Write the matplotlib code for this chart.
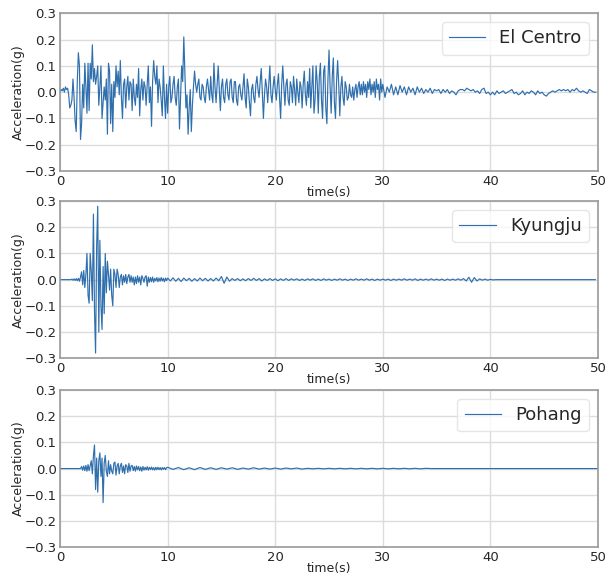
import numpy as np
import matplotlib
matplotlib.use("Agg")
import matplotlib.pyplot as plt

# ---------------- ground-motion records (acceleration in g) ----------------
# El Centro: 0-30 s sampled every 0.1 s, 30-50 s every 0.2 s
el_centro_main = [
    0.00, 0.01, 0.005, 0.015, 0.00, 0.02, 0.01, 0.015, -0.01, -0.06,
    -0.05, -0.03, 0.05, -0.02, -0.11, -0.15, 0.04, 0.15, 0.10, -0.18,
    -0.12, 0.03, -0.06, 0.11, 0.02, -0.08, 0.11, -0.07, 0.11, 0.05,
    0.18, 0.04, 0.09, 0.03, 0.06, 0.10, -0.05, 0.02, 0.10, -0.10,
    -0.04, 0.02, -0.03, 0.05, -0.16, 0.11, 0.08, -0.12, 0.03, -0.15,
    0.04, -0.02, 0.10, 0.02, 0.08, -0.01, 0.12, -0.02, -0.10, 0.03,
    0.05, -0.06, 0.02, 0.06, -0.03, 0.04, 0.03, -0.07, 0.05, -0.02,
    -0.05, 0.03, -0.02, 0.09, -0.09, 0.01, 0.05, -0.03, 0.04, 0.02,
    -0.05, 0.03, 0.10, -0.04, 0.02, -0.13, 0.04, 0.12, 0.06, 0.03,
    0.10, -0.04, 0.05, 0.02, -0.03, -0.09, 0.10, -0.02, -0.10, 0.03,
    -0.08, 0.02, 0.06, -0.04, -0.02, 0.03, 0.06, -0.02, -0.05, 0.02,
    0.05, -0.14, -0.02, 0.10, 0.04, 0.21, 0.08, -0.06, -0.01, -0.16,
    -0.06, 0.01, -0.15, -0.05, 0.02, 0.08, 0.03, 0.00, 0.03, 0.05,
    -0.02, -0.03, 0.03, 0.02, -0.02, -0.04, 0.02, 0.05, 0.01, -0.03,
    0.06, -0.01, -0.04, 0.11, 0.02, -0.04, 0.03, 0.10, 0.01, -0.07,
    0.02, 0.05, -0.02, -0.04, 0.03, 0.05, -0.01, -0.03, 0.04, 0.05,
    -0.02, -0.04, 0.04, 0.04, -0.03, -0.05, 0.02, 0.03, -0.01, -0.03,
    0.02, 0.07, -0.02, -0.06, 0.05, 0.02, -0.04, -0.09, 0.01, 0.03,
    -0.02, -0.04, 0.03, 0.06, 0.01, -0.02, 0.04, 0.09, 0.00, -0.10,
    -0.01, 0.05, 0.02, -0.04, 0.03, 0.10, -0.01, -0.04, 0.02, 0.06,
    0.01, -0.03, 0.03, 0.07, -0.02, -0.10, 0.03, 0.10, 0.02, -0.05,
    0.03, 0.05, -0.03, -0.05, 0.04, 0.02, -0.04, 0.06, 0.01, -0.05,
    0.05, 0.00, -0.04, 0.04, 0.02, -0.06, 0.03, 0.08, -0.01, -0.05,
    0.04, -0.02, 0.09, -0.06, 0.02, 0.10, -0.08, -0.03, 0.10, 0.04,
    -0.08, 0.06, 0.11, -0.03, -0.10, 0.08, 0.10, -0.06, -0.12, 0.05,
    0.16, 0.02, -0.08, 0.06, 0.13, -0.04, -0.10, 0.04, 0.12, 0.03,
    -0.09, 0.02, 0.06, -0.02, -0.05, 0.04, 0.02, -0.03, -0.02, 0.03,
    -0.01, -0.02, 0.02, -0.03, 0.01, 0.03, -0.02, 0.02, 0.04, -0.01,
    0.03, -0.01, 0.04, 0.00, 0.03, -0.02, 0.04, 0.01, 0.05, -0.01,
    0.03, 0.00, 0.04, -0.02, 0.05, 0.01, 0.03, -0.03, 0.05, 0.00,
]
el_centro_tail = [
    0.03, -0.02, 0.02, 0.00, 0.03, -0.01, 0.02, -0.01, 0.025, 0.00,
    0.02, -0.01, 0.02, 0.00, 0.015, -0.01, 0.02, 0.00, 0.015, -0.005,
    0.01, 0.00, 0.015, -0.005, 0.01, 0.005, 0.01, -0.005, 0.01, 0.00,
    0.01, -0.005, 0.005, 0.00, -0.01, 0.005, 0.01, 0.01, 0.005, 0.015,
    0.01, 0.005, 0.01, 0.00, 0.005, -0.005, 0.01, 0.015, -0.005, 0.00,
    -0.01, 0.00, -0.01, 0.005, -0.005, 0.00, 0.005, -0.005, 0.00, 0.005,
    0.01, -0.005, 0.00, -0.01, -0.005, 0.005, -0.01, 0.00, -0.005, 0.005,
    0.00, -0.01, 0.005, -0.005, 0.00, -0.01, -0.015, -0.005, 0.00, 0.005,
    0.00, 0.005, 0.01, 0.005, 0.01, 0.005, 0.01, 0.00, 0.01, 0.005,
    0.015, 0.005, 0.00, 0.005, 0.00, -0.005, 0.01, 0.005, 0.00, 0.00,
]

# Kyungju: 0-10 s every 0.1 s, 10-50 s every 0.25 s
kyungju_main = [
    0, 0, 0, 0, 0, 0, 0, 0, 0, 0,
    0, 0.002, -0.002, 0.003, -0.003, 0.004, -0.004, 0.005, -0.006, 0.01,
    0.03, -0.02, 0.035, -0.03, 0.02, 0.10, -0.06, -0.09, 0.10, 0.03,
    -0.08, 0.25, -0.12, -0.28, 0.13, 0.28, -0.20, 0.15, -0.10, -0.19,
    0.05, -0.13, 0.10, -0.05, 0.07, 0.02, -0.04, 0.04, -0.06, -0.10,
    0.04, 0.02, -0.03, 0.04, 0.02, -0.03, 0.01, 0.02, -0.02, 0.015,
    -0.01, 0.02, -0.015, 0.01, 0.02, -0.01, 0.015, -0.01, 0.01, -0.02,
    0.01, -0.015, 0.015, -0.01, 0.01, -0.02, 0.015, 0.005, -0.01, 0.01,
    0.015, -0.025, 0.01, -0.01, 0.008, -0.008, 0.01, -0.01, 0.005, -0.005,
    0.008, -0.008, 0.006, -0.006, 0.008, -0.005, 0.005, -0.008, 0.006, -0.004,
]
kyungju_tail = [
    0.006, -0.005, 0.007, -0.006, 0.005, -0.007, 0.006, -0.004,
    0.005, -0.006, 0.004, -0.005, 0.006, -0.004, 0.005, -0.005,
    0.004, -0.005, 0.006, -0.004, 0.012, -0.014, 0.01, -0.006,
    0.004, -0.003, 0.004, -0.004, 0.003, -0.004, 0.004, -0.003,
    0.005, -0.003, 0.004, -0.005, 0.003, -0.003, 0.004, -0.003,
    0.003, -0.004, 0.003, -0.003, 0.004, -0.003, 0.003, -0.002,
    0.003, -0.003, 0.002, -0.003, 0.003, -0.002, 0.003, -0.003,
    0.002, -0.003, 0.003, -0.002, 0.002, -0.003, 0.002, -0.002,
    0.003, -0.002, 0.002, -0.003, 0.002, -0.002, 0.003, -0.002,
    0.002, -0.002, 0.003, -0.002, 0.002, -0.003, 0.002, -0.002,
    0.002, -0.002, 0.002, -0.003, 0.002, -0.002, 0.002, -0.002,
    0.003, -0.002, 0.002, -0.002, 0.003, -0.003, 0.002, -0.002,
    0.002, -0.002, 0.003, -0.002, 0.002, -0.002, 0.002, -0.003,
    0.002, -0.002, 0.002, -0.002, 0.003, -0.002, 0.004, -0.005,
    0.009, -0.01, 0.008, -0.005, 0.003, -0.002, 0.002, -0.002,
    0.001, -0.001, 0, 0, 0, 0, 0, 0,
    0, 0, 0, 0, 0, 0, 0, 0,
    0, 0, 0, 0, 0, 0, 0, 0,
    0, 0, 0, 0, 0, 0, 0, 0,
    0, 0, 0, 0, 0, 0, 0, 0,
]

# Pohang: 0-10 s every 0.1 s, 10-50 s every 0.5 s
pohang_main = [
    0, 0, 0, 0, 0, 0, 0, 0, 0, 0,
    0, 0, 0, 0, 0, 0, 0, 0, 0, 0,
    0.008, -0.006, 0.01, -0.008, 0.012, -0.01, 0.015, -0.008, 0.012, 0.03,
    -0.02, 0.05, 0.09, -0.08, 0.04, -0.09, 0.03, 0.06, -0.03, 0.04,
    -0.13, 0.02, 0.05, -0.01, -0.03, 0.03, -0.02, 0.015, -0.01, -0.02,
    0.02, 0.025, -0.025, 0.01, 0.02, -0.02, 0.01, 0.02, -0.015, 0.01,
    -0.02, 0.015, 0.01, -0.015, 0.02, -0.01, 0.01, 0.012, -0.008, 0.008,
    -0.01, 0.01, -0.005, 0.008, -0.008, 0.006, -0.01, 0.008, -0.006, 0.005,
    -0.005, 0.007, -0.006, 0.005, -0.004, 0.006, -0.005, 0.004, -0.006, 0.005,
    -0.004, 0.005, -0.004, 0.004, -0.005, 0.004, -0.003, 0.004, -0.004, 0.003,
]
pohang_tail = [
    0.005, -0.003, 0.004, -0.004, 0.003, -0.004, 0.004, -0.003, 0.003, -0.003,
    0.003, -0.002, 0.003, -0.003, 0.002, -0.002, 0.003, -0.002, 0.002, -0.002,
    0.002, -0.002, 0.002, -0.001, 0.002, -0.002, 0.001, -0.001, 0.001, -0.001,
    0.001, -0.001, 0.001, -0.001, 0.001, -0.001, 0.001, -0.001, 0.001, -0.001,
    0.001, -0.001, 0.001, -0.001, 0.001, -0.001, 0.001, -0.001, 0.001, 0.0,
    0.0, 0.0, 0.0, 0.0, 0.0, 0.0, 0.0, 0.0, 0.0, 0.0,
    0.0, 0.0, 0.0, 0.0, 0.0, 0.0, 0.0, 0.0, 0.0, 0.0,
    0.0, 0.0, 0.0, 0.0, 0.0, 0.0, 0.0, 0.0, 0.0, 0.0, 0.0,
]

names = ["El Centro", "Kyungju", "Pohang"]
yticks = [-0.3, -0.2, -0.1, 0.0, 0.1, 0.2, 0.3]
xticks = [0, 10, 20, 30, 40, 50]


def record(main, dt_main, tail, dt_tail):
    t_main = np.arange(len(main)) * dt_main
    t_tail = t_main[-1] + dt_main + np.arange(len(tail)) * dt_tail
    return np.concatenate([t_main, t_tail]), np.concatenate([main, tail])


records = [
    record(el_centro_main, 0.1, el_centro_tail, 0.2),
    record(kyungju_main, 0.1, kyungju_tail, 0.25),
    record(pohang_main, 0.1, pohang_tail, 0.5),
]

text_color = "#262626"
plt.rcParams.update({
    "font.family": "DejaVu Sans",
    "axes.edgecolor": "#9a9a9a",
    "axes.linewidth": 1.2,
    "grid.color": "#dcdcdc",
    "grid.linewidth": 1.0,
    "xtick.color": text_color,
    "ytick.color": text_color,
    "axes.labelcolor": text_color,
})

fig = plt.figure(figsize=(6.13, 5.76), dpi=100)
boxes = [(0.098, 0.703, 0.8775, 0.274),
         (0.098, 0.378, 0.8775, 0.273),
         (0.098, 0.050, 0.8775, 0.273)]

for (t, a), name, box in zip(records, names, boxes):
    ax = fig.add_axes(box)
    ax.plot(t, a, color="#2f6fad", linewidth=0.85, label=name)
    ax.set_xlim(0, 50)
    ax.set_ylim(-0.3, 0.3)
    ax.set_xticks(xticks)
    ax.set_yticks(yticks)
    ax.grid(True)
    ax.set_axisbelow(True)
    ax.tick_params(labelsize=9.5, length=0, pad=2.5)
    ax.set_xlabel("time(s)", fontsize=9, labelpad=-1)
    ax.set_ylabel("Acceleration(g)", fontsize=9, labelpad=0)
    leg = ax.legend(loc="upper right", fontsize=13, handlelength=2.0,
                    fancybox=True, framealpha=0.8, edgecolor="#e0e0e0")
    for txt in leg.get_texts():
        txt.set_color(text_color)

fig.savefig("out.png", dpi=100)
